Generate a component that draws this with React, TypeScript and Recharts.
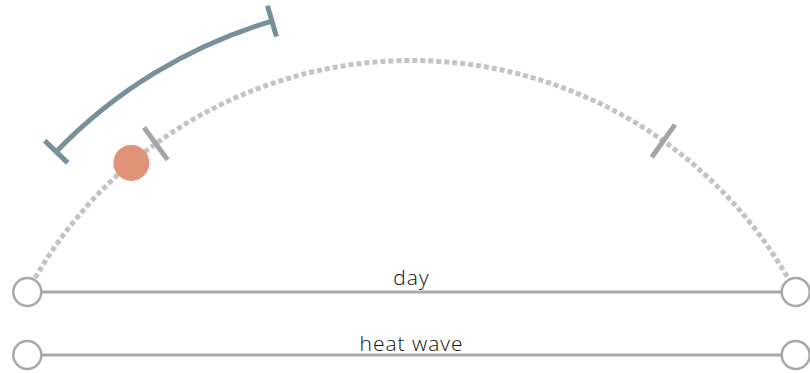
import React from 'react';
import { PieChart, Pie, LineChart, Line, XAxis, YAxis, ReferenceLine, Label } from 'recharts';

// positions along the day, 0 = start of the arc, 100 = end of the arc
const dayRange = [0, 100];
const nowMark = [17.7];
const tickMarks = [21.0, 78.5];
const heatSpan = [13.0, 36.8];

// the two timelines under the arc
const rowNames = ['day', 'heat wave'];
const rowLevels = [1, 0];

const RAD = Math.PI / 180;
const polar = (cx: number, cy: number, r: number, a: number) => ({
  x: cx + r * Math.cos(-a * RAD),
  y: cy + r * Math.sin(-a * RAD),
});

const arcPath = (cx: number, cy: number, r: number, a0: number, a1: number) => {
  const p0 = polar(cx, cy, r, a0);
  const p1 = polar(cx, cy, r, a1);
  return `M${p0.x},${p0.y} A${r},${r} 0 ${Math.abs(a0 - a1) > 180 ? 1 : 0} 1 ${p1.x},${p1.y}`;
};

const crossLine = (cx: number, cy: number, r: number, a: number, half: number) => {
  const p0 = polar(cx, cy, r - half, a);
  const p1 = polar(cx, cy, r + half, a);
  return `M${p0.x},${p0.y} L${p1.x},${p1.y}`;
};

// pie slices between cut points, so the pie does the value -> angle mapping
const slicesFor = (cuts: number[]) => {
  const edges = [dayRange[0], ...cuts, dayRange[1]];
  return edges.slice(1).map((end, i) => ({ from: edges[i], to: end, value: end - edges[i], idx: i }));
};

const rows = rowNames.map((name, i) => ({
  name,
  level: rowLevels[i],
  points: dayRange.map((x) => ({ x, y: rowLevels[i] })),
}));

const CX = 411.5;
const CY = 495;
const R = 434.5;
const START = 152.15;
const END = 27.85;
const GREY = '#a9a9a9';
const FONT = '"Open Sans", sans-serif';

const dayArcLabel = (p: any) => (
  <path
    d={arcPath(p.cx, p.cy, p.outerRadius, p.startAngle, p.endAngle)}
    fill="none"
    stroke="#c4c4c4"
    strokeWidth={5}
    strokeDasharray="5 3"
  />
);

const tickLabel = (p: any) =>
  p.payload.idx === 0 ? null : (
    <path d={crossLine(p.cx, p.cy, p.outerRadius, p.startAngle, 20)} stroke="#a5a5a5" strokeWidth={5} fill="none" />
  );

const nowLabel = (p: any) => {
  if (p.payload.idx !== 1) return null;
  const pt = polar(p.cx, p.cy, p.outerRadius, p.startAngle);
  return <circle cx={pt.x} cy={pt.y} r={18} fill="#e09377" />;
};

const heatLabel = (p: any) => {
  if (p.payload.idx !== 1) return null;
  return (
    <g stroke="#78909a" strokeWidth={5} fill="none">
      <path d={arcPath(p.cx, p.cy, p.outerRadius, p.startAngle, p.endAngle)} />
      <path d={crossLine(p.cx, p.cy, p.outerRadius, p.startAngle, 16)} />
      <path d={crossLine(p.cx, p.cy, p.outerRadius, p.endAngle, 16)} />
    </g>
  );
};

const pieCommon = {
  dataKey: 'value',
  cx: CX,
  cy: CY,
  startAngle: START,
  endAngle: END,
  fill: 'none',
  stroke: 'none',
  labelLine: false,
  isAnimationActive: false,
};

export default function App() {
  return (
    <div style={{ position: 'absolute', left: 0, top: 0, width: 810, height: 373 }}>
      <div style={{ position: 'absolute', left: 0, top: 0 }}>
        <PieChart width={810} height={373} margin={{ top: 0, right: 0, bottom: 0, left: 0 }}>
          <Pie {...pieCommon} data={slicesFor([])} outerRadius={R} label={dayArcLabel} />
          <Pie {...pieCommon} data={slicesFor(heatSpan)} outerRadius={494} label={heatLabel} />
          <Pie {...pieCommon} data={slicesFor(tickMarks)} outerRadius={R} label={tickLabel} />
          <Pie {...pieCommon} data={slicesFor(nowMark)} outerRadius={R} label={nowLabel} />
        </PieChart>
      </div>
      <div style={{ position: 'absolute', left: 0, top: 0 }}>
        <LineChart width={810} height={373} margin={{ top: 292, right: 14.3, bottom: 18, left: 27.3 }}>
          <XAxis type="number" dataKey="x" domain={dayRange} hide />
          <YAxis type="number" domain={[0, 1]} hide />
          {rows.map((row) => (
            <ReferenceLine
              key={'lbl-' + row.name}
              y={row.level}
              stroke="none"
              label={
                <Label
                  value={row.name}
                  position="top"
                  offset={row.level === 1 ? 7 : 4.5}
                  fill="#111"
                  fontSize={21}
                  letterSpacing={1}
                  fontFamily={FONT}
                  fontWeight={300}
                />
              }
            />
          ))}
          {rows.map((row) => (
            <Line
              key={row.name}
              data={row.points}
              dataKey="y"
              stroke={GREY}
              strokeWidth={3}
              dot={{ r: 14, fill: '#fff', stroke: GREY, strokeWidth: 2.5 }}
              activeDot={false}
              isAnimationActive={false}
            />
          ))}
        </LineChart>
      </div>
    </div>
  );
}
